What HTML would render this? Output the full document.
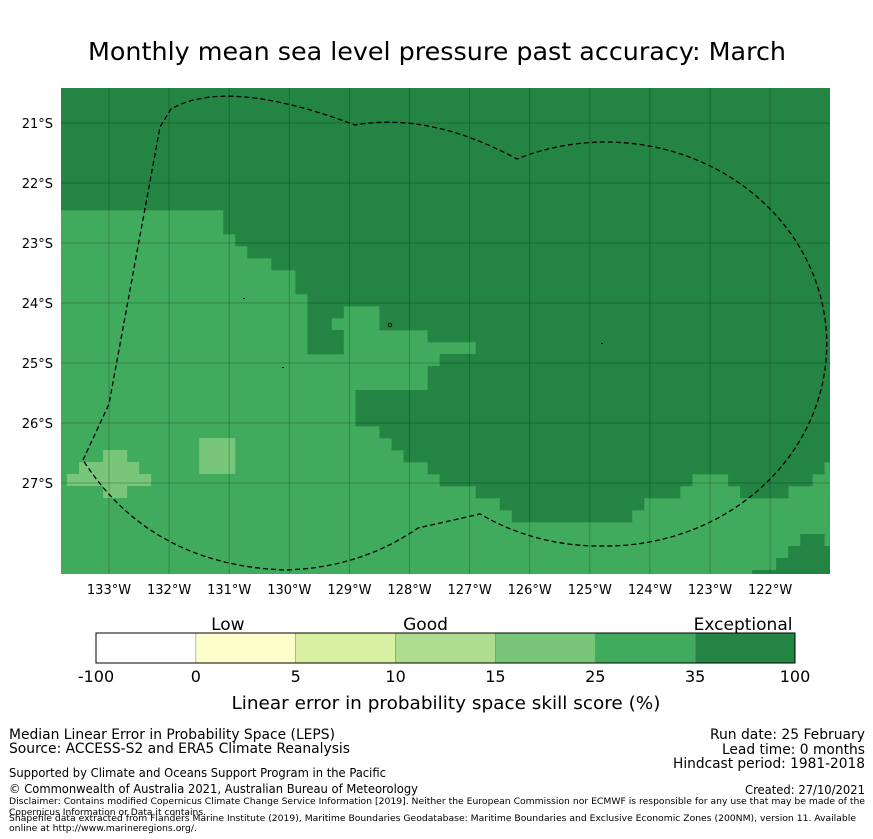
<!DOCTYPE html>
<html><head><meta charset="utf-8"><style>
html,body{margin:0;padding:0;background:#fff;}
svg{display:block;font-family:"DejaVu Sans","Liberation Sans",sans-serif;}
.c{font-family:"DejaVu Sans Condensed","DejaVu Sans","Liberation Sans",sans-serif;}
</style></head><body>
<svg id="chart" width="873" height="839" viewBox="0 0 873 839" xmlns="http://www.w3.org/2000/svg">
<text x="437" y="60" text-anchor="middle" font-size="25" textLength="698" lengthAdjust="spacingAndGlyphs">Monthly mean sea level pressure past accuracy: March</text>
<defs><clipPath id="mapclip"><rect x="61" y="88" width="769" height="486"/></clipPath></defs>
<g id="map" clip-path="url(#mapclip)">
<rect x="61" y="88" width="769" height="486" fill="#41ab5d"/>
<g id="cells"></g>
<g id="grid"></g>
<path d="M83,460 L109,404 L160,127 L171,109 Q227,77 355,125 Q430,112 517,159 A221 202 0 1 1 603,546 A221 202 0 0 1 480,514 L418,528 Q360,568 285,570 Q150,565 83,460 Z" fill="none" stroke="#000" stroke-width="1.3" stroke-dasharray="5,3"/>
<g fill="#000">
<rect x="243" y="298" width="2" height="1"/><circle cx="390" cy="325" r="1.8" fill="none" stroke="#000" stroke-width="0.8"/><rect x="282" y="367" width="2" height="1"/><rect x="601" y="343" width="2" height="1"/>
</g>
</g>
<g id="axes"></g>
<g id="colorbar"></g>
<text x="446" y="709" text-anchor="middle" font-size="18" textLength="429" lengthAdjust="spacingAndGlyphs">Linear error in probability space skill score (%)</text>
<g class="c" font-size="14">
<text x="9" y="739" textLength="326" lengthAdjust="spacingAndGlyphs">Median Linear Error in Probability Space (LEPS)</text>
<text x="9" y="753" textLength="341" lengthAdjust="spacingAndGlyphs">Source: ACCESS-S2 and ERA5 Climate Reanalysis</text>
<text x="710" y="739" textLength="155" lengthAdjust="spacingAndGlyphs">Run date: 25 February</text>
<text x="722" y="754" textLength="143" lengthAdjust="spacingAndGlyphs">Lead time: 0 months</text>
<text x="673" y="768" textLength="192" lengthAdjust="spacingAndGlyphs">Hindcast period: 1981-2018</text>
<text x="9" y="777" font-size="12.5" textLength="377" lengthAdjust="spacingAndGlyphs">Supported by Climate and Oceans Support Program in the Pacific</text>
<text x="9" y="793" font-size="12.5" textLength="409" lengthAdjust="spacingAndGlyphs">© Commonwealth of Australia 2021, Australian Bureau of Meteorology</text>
<text x="745" y="794" font-size="12.5" textLength="120" lengthAdjust="spacingAndGlyphs">Created: 27/10/2021</text>
<text x="9" y="804" font-size="9" textLength="856" lengthAdjust="spacingAndGlyphs">Disclaimer: Contains modified Copernicus Climate Change Service Information [2019]. Neither the European Commission nor ECMWF is responsible for any use that may be made of the</text>
<text x="9" y="815" font-size="9" textLength="197" lengthAdjust="spacingAndGlyphs">Copernicus Information or Data it contains.</text>
<text x="9" y="821" font-size="9" textLength="847" lengthAdjust="spacingAndGlyphs">Shapefile data extracted from Flanders Marine Institute (2019), Maritime Boundaries Geodatabase: Maritime Boundaries and Exclusive Economic Zones (200NM), version 11. Available</text>
<text x="9" y="831" font-size="9" textLength="188" lengthAdjust="spacingAndGlyphs">online at http://www.marineregions.org/.</text>
</g>
</svg>
<script>
// Heatmap category spans per row: [startCol, endCol) ; default category = 25-35
const darkSpans = [
 [[0,66]],[[0,66]],[[0,66]],[[0,66]],[[0,66]],[[0,66]],[[0,66]],[[0,66]],[[0,66]],[[0,66]],[[0,66]],
 [[14,66]],[[14,66]],[[15,66]],[[16,66]],[[18,66]],[[20,66]],[[20,66]],[[21,66]],
 [[21,24],[27,66]],[[21,23],[27,66]],[[21,24],[31,66]],[[21,24],[35,66]],[[32,66]],[[31,66]],[[31,66]],
 [[25,66]],[[25,66]],[[25,66]],[[27,66]],[[28,66]],[[29,66]],[[31,64]],
 [[32,53],[56,63]],[[35,52],[57,61]],[[37,49]],[[38,48]],[],[[62,64]],[[61,66]],[[60,66]],[[58,66]]
];
const lightSpans = {30:[[12,15]],31:[[4,6],[12,15]],32:[[2,7],[12,15]],33:[[1,8]],34:[[4,6]]};
const lonTicks = [133,132,131,130,129,128,127,126,125,124,123,122];
const latTicks = [21,22,23,24,25,26,27];
const cbBounds = ['-100','0','5','10','15','25','35','100'];
const cbColors = ['#ffffff','#ffffcc','#d9f0a3','#addd8e','#78c679','#41ab5d','#238443'];
const cbLabels = [['Low',1.32],['Good',3.3],['Exceptional',6.48]];

const NS='http://www.w3.org/2000/svg';
function mk(tag,attrs,parent){const e=document.createElementNS(NS,tag);for(const k in attrs)e.setAttribute(k,attrs[k]);parent.appendChild(e);return e;}
const colX=c=>55+c*12.02, rowY=r=>78+r*12;
const lonX=l=>109+(133-l)*60.1, latY=l=>123+(l-21)*60;

const cells=document.getElementById('cells');
darkSpans.forEach((spans,r)=>spans.forEach(s=>{
 const e=mk('rect',{x:colX(s[0]),y:rowY(r),width:colX(s[1])-colX(s[0])+0.3,height:12.3,fill:'#238443'},cells);
 
 
}));
Object.keys(lightSpans).forEach(r=>lightSpans[r].forEach(s=>{
 const e=mk('rect',{x:colX(s[0]),y:rowY(+r),width:colX(s[1])-colX(s[0]),height:12,fill:'#78c679'},cells);
 
 
}));
const grid=document.getElementById('grid'), axes=document.getElementById('axes');
lonTicks.forEach(l=>{
 const x=lonX(l);
 const g=mk('line',{x1:x,x2:x,y1:88,y2:574,stroke:'rgba(0,0,0,0.22)','stroke-width':1},grid);
 
 
 const t=mk('text',{x:x,y:594,'text-anchor':'middle','font-size':13},axes);t.textContent=l+'°W';
 
 
});
latTicks.forEach(l=>{
 const y=latY(l);
 const g=mk('line',{x1:61,x2:830,y1:y,y2:y,stroke:'rgba(0,0,0,0.22)','stroke-width':1},grid);
 
 
 const t=mk('text',{x:53,y:y+5,'text-anchor':'end','font-size':13},axes);t.textContent=l+'°S';
 
 
});
const cb=document.getElementById('colorbar');
const cbX=i=>96+i*(699/7);
cbColors.forEach((c,i)=>{
 const e=mk('rect',{x:cbX(i),y:633,width:699/7,height:30,fill:c,stroke:'#888','stroke-width':0.6},cb);
 
 
});
mk('rect',{x:96,y:633,width:699,height:30,fill:'none',stroke:'#000','stroke-width':1},cb);
cbBounds.forEach((b,i)=>{
 const t=mk('text',{x:cbX(i),y:682,'text-anchor':'middle','font-size':16},cb);t.textContent=b;
 
 
});
cbLabels.forEach(l=>{
 const t=mk('text',{x:cbX(l[1]),y:630,'text-anchor':'middle','font-size':17},cb);t.textContent=l[0];
 
 
});
</script>
</body></html>
